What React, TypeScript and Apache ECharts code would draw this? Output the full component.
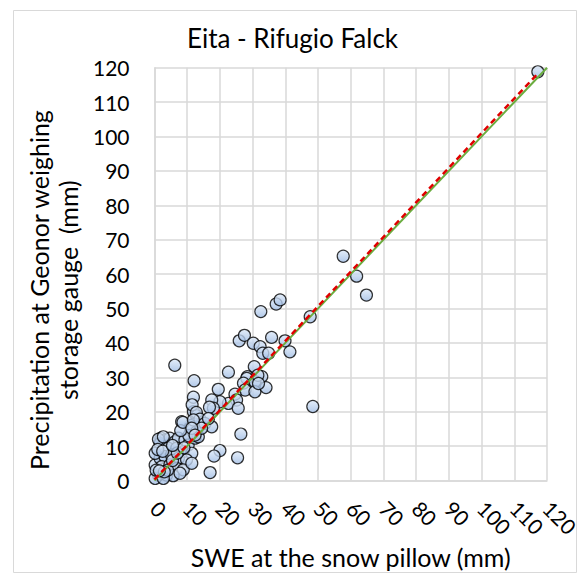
import React, { useEffect, useRef } from "react";
import * as echarts from "echarts";

const TITLE = "Eita - Rifugio Falck";
const X_NAME = "SWE at the snow pillow (mm)";
const Y_NAME = "Precipitation at Geonor weighing\nstorage gauge  (mm)";

// [SWE at snow pillow (mm), precipitation at Geonor gauge (mm)]
const pointsHigh: number[][] = [
  [117.2, 118.8],
  [57.7, 65.2],
  [61.8, 59.4],
  [64.8, 53.9],
  [47.6, 47.6],
  [48.4, 21.5],
  [41.4, 37.4],
  [32.5, 49.1],
  [37.2, 51.3],
  [38.4, 52.5],
];

const pointsMid: number[][] = [
  [25.9, 40.6], [27.5, 42.2], [30.2, 39.9], [32.3, 38.9], [33.1, 37.0],
  [34.9, 37.0], [35.8, 41.6], [39.9, 40.6], [22.6, 31.5], [30.5, 33.1],
  [28.4, 30.2], [28.2, 29.7], [32.8, 30.2], [27.2, 28.3], [30.7, 28.7],
  [27.7, 26.3], [30.7, 25.8], [34.1, 27.0], [19.5, 26.5], [24.6, 25.1],
  [25.1, 23.4], [22.6, 22.4], [20.0, 22.9], [17.5, 23.4], [25.6, 21.0],
  [18.0, 21.0], [12.1, 29.0], [6.2, 33.5], [11.9, 24.2], [11.5, 22.0],
  [12.8, 19.8], [16.8, 21.3], [26.4, 13.5], [20.0, 8.7], [18.2, 7.1],
  [25.4, 6.6], [17.0, 2.3], [8.7, 16.9], [13.9, 17.8], [11.9, 17.6],
  [15.4, 16.6], [17.5, 15.6], [14.4, 15.2], [11.4, 15.2], [12.4, 13.2],
  [16.5, 18.0], [31.6, 30.6], [31.8, 28.2],
];

const pointsLow: number[][] = [
  [11.9, 20.0], [12.9, 18.8], [13.5, 17.0], [12.2, 16.4], [11.0, 16.0],
  [8.3, 17.1], [10.9, 15.3], [12.9, 14.2], [2.0, 12.3], [3.2, 11.8],
  [4.7, 12.3], [1.7, 10.8], [6.3, 11.3], [7.3, 12.3], [9.3, 11.8],
  [10.3, 10.3], [12.4, 12.3], [4.2, 9.4], [6.8, 9.4], [8.8, 8.4],
  [11.4, 7.9], [0.2, 4.5], [1.7, 6.5], [3.2, 6.9], [5.2, 7.4],
  [7.3, 6.5], [9.8, 6.0], [2.2, 4.0], [4.7, 4.5], [6.8, 3.5],
  [8.8, 3.1], [1.2, 1.6], [3.7, 1.6], [5.7, 1.4], [0.2, 0.6],
  [2.7, 0.6], [7.8, 2.1], [11.4, 5.0], [13.4, 12.7], [13.9, 16.1],
  [1.2, 12.0], [2.7, 12.7], [0.2, 7.9], [0.5, 3.0], [1.0, 9.0],
  [2.5, 8.5], [4.0, 3.0], [5.5, 5.8], [7.0, 8.0], [9.0, 9.5],
  [10.5, 13.0], [8.0, 14.5], [5.5, 10.2], [3.0, 2.5], [1.5, 2.8],
];

const oneToOneLine: number[][] = [[0, 0], [120, 120]];
const regressionLine: number[][] = [[0, 0.3], [117.2, 118.3]];

const AXIS_MIN = 0;
const AXIS_MAX = 120;
const AXIS_STEP = 10;

const FONT = "Lato, 'Open Sans', sans-serif";

export default function App() {
  const ref = useRef<HTMLDivElement>(null);

  useEffect(() => {
    document.body.style.margin = "0";
    const chart = echarts.init(ref.current!, null, { renderer: "svg" });
    const allPoints = [...pointsLow, ...pointsMid, ...pointsHigh];
    const markerFill = new echarts.graphic.LinearGradient(0, 0, 0, 1, [
      { offset: 0, color: "#dde9f8" },
      { offset: 1, color: "#9fbce4" },
    ]);
    chart.setOption({
      animation: false,
      backgroundColor: "#ffffff",
      textStyle: { fontFamily: FONT },
      title: {
        text: TITLE,
        left: "center",
        top: 20,
        textStyle: { fontFamily: FONT, fontSize: 26, fontWeight: "normal", color: "#000" },
      },
      graphic: [
        {
          type: "rect",
          shape: { x: 13.5, y: 10.5, width: 563, height: 562 },
          style: { fill: "none", stroke: "#d9d9d9", lineWidth: 1 },
          silent: true,
        },
      ],
      grid: { left: 154.5, right: 38, top: 67.7, bottom: 95.5 },
      xAxis: {
        type: "value",
        min: AXIS_MIN,
        max: AXIS_MAX,
        interval: AXIS_STEP,
        name: X_NAME,
        nameLocation: "middle",
        nameGap: 59,
        nameTextStyle: { fontFamily: FONT, fontSize: 25, color: "#000" },
        axisLine: { show: true, lineStyle: { color: "#d9d9d9", width: 1.5 } },
        axisTick: { show: false },
        axisLabel: {
          rotate: -45,
          margin: 24,
          fontFamily: FONT,
          fontSize: 21,
          color: "#000",
        },
        splitLine: { show: true, lineStyle: { color: "#d9d9d9", width: 1.5 } },
      },
      yAxis: {
        type: "value",
        min: AXIS_MIN,
        max: AXIS_MAX,
        interval: AXIS_STEP,
        name: Y_NAME,
        nameLocation: "middle",
        nameGap: 68,
        nameTextStyle: {
          fontFamily: FONT,
          fontSize: 25,
          color: "#000",
          lineHeight: 29,
          padding: [0, 32, 0, 0],
        },
        axisLine: { show: true, lineStyle: { color: "#d9d9d9", width: 1.5 } },
        axisTick: { show: false },
        axisLabel: { margin: 25, fontFamily: FONT, fontSize: 21, color: "#000" },
        splitLine: { show: true, lineStyle: { color: "#d9d9d9", width: 1.5 } },
      },
      series: [
        {
          type: "scatter",
          data: allPoints,
          symbol: "circle",
          symbolSize: 12,
          itemStyle: { color: markerFill, borderColor: "#000", borderWidth: 1.2 },
          z: 2,
        },
        {
          type: "line",
          data: oneToOneLine,
          showSymbol: false,
          symbol: "none",
          lineStyle: { color: "#6aad3f", width: 2 },
          z: 3,
        },
        {
          type: "line",
          data: regressionLine,
          showSymbol: false,
          symbol: "none",
          lineStyle: { color: "#e00000", width: 2.5, type: [6, 4] },
          z: 4,
        },
      ],
    });
    return () => chart.dispose();
  }, []);

  return (
    <div
      ref={ref}
      style={{ width: 585, height: 576, position: "absolute", left: 0, top: 0 }}
    />
  );
}
